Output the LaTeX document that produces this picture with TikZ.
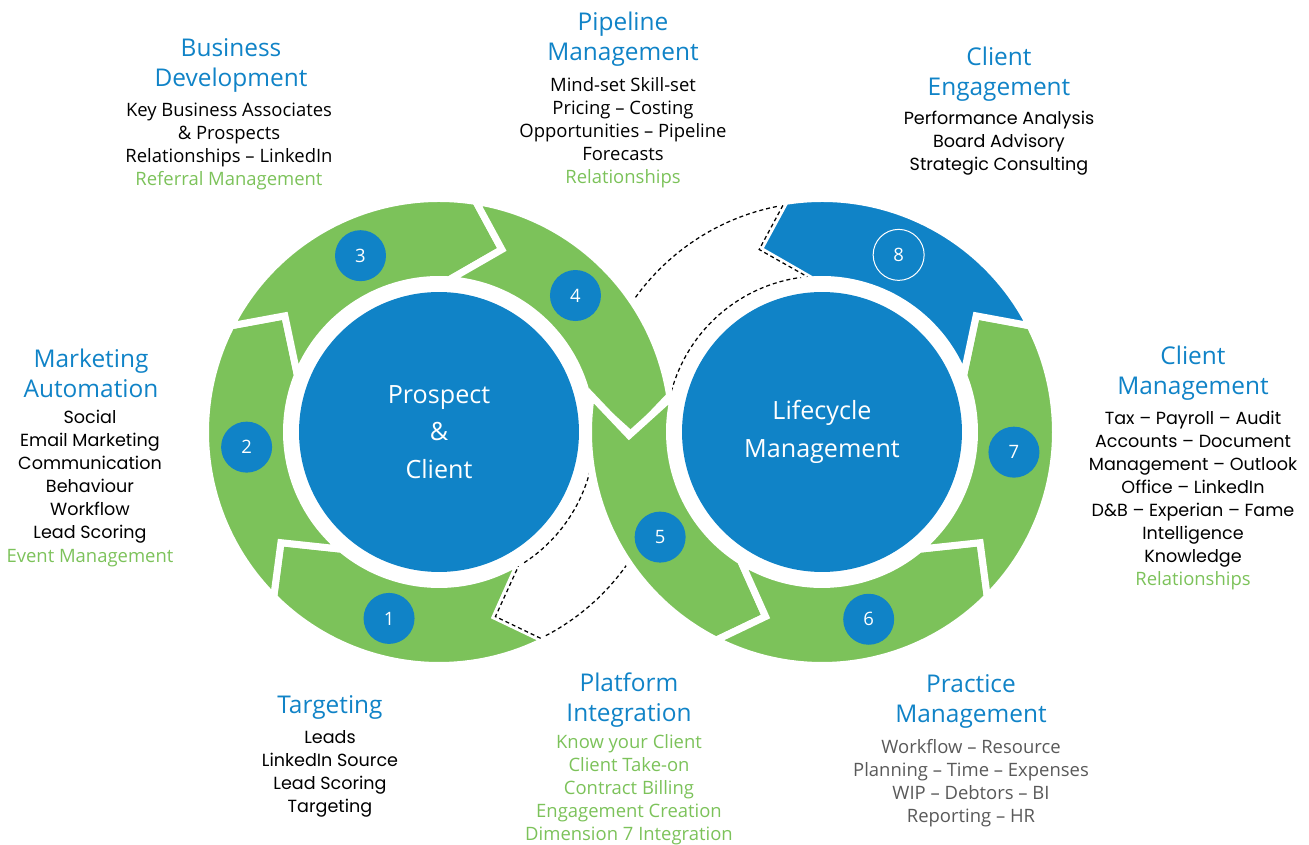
\documentclass[tikz,border=0pt]{standalone}
\usepackage{fontspec}
\setmainfont{Open Sans}
\newfontfamily\wide{Poppins}
\definecolor{mblue}{HTML}{1083C7}
\definecolor{mgreen}{HTML}{7CC25A}
\definecolor{mgray}{HTML}{595959}
\tikzset{
  seg/.style={fill=mgreen, draw=white, line width=0.14cm},
  ghost/.style={draw=black, line width=0.025cm, dash pattern=on 0.08cm off 0.06cm},
  num/.style={circle, fill=mblue, text=white, minimum size=1.02cm, inner sep=0pt, font=\fontsize{10.5}{12}\selectfont},
  numring/.style={num, fill=none, draw=white, line width=0.02cm},
  disk/.style={circle, fill=mblue, text=white, minimum size=5.6cm, inner sep=0pt, align=center, font=\fontsize{14.3}{21.3}\selectfont},
  heading/.style={text=mblue, align=center, inner sep=0pt, font=\fontsize{13.9}{17.1}\selectfont},
  items/.style={align=center, inner sep=0pt, font=\fontsize{10.5}{13.1}\selectfont},
  wideitems/.style={items, font=\wide\fontsize{10}{13.1}\selectfont},
}
\begin{document}
\begin{tikzpicture}[x=0.02cm, y=0.02cm]
\useasboundingbox (0,0) rectangle (1309,845);

\draw[ghost, shift={(439,413)}] (287:193) -- (296.22:230) arc[start angle=296.22, end angle=368.22, radius=230] -- (359:193) -- (372.59:156) arc[start angle=372.59, end angle=300.59, radius=156] -- cycle;
\draw[ghost, shift={(822,413)}] (181:193) -- (171.78:230) arc[start angle=171.78, end angle=99.78, radius=230] -- (109:193) -- (95.41:156) arc[start angle=95.41, end angle=167.41, radius=156] -- cycle;

\begin{scope}[shift={(439,413)}]
  \foreach \h in {215, 143, 71, -1} {
    \filldraw[seg] (\h:193) -- ({\h+9.94}:233.5) arc[start angle=\h+9.94, end angle=\h+81.94, radius=233.5] -- ({\h+72}:193) -- ({\h+87.2}:152.5) arc[start angle=\h+87.2, end angle=\h+15.2, radius=152.5] -- cycle;
  }
  \draw[ghost] (296.22:230) -- (287:193) -- (300.59:156);
\end{scope}

\begin{scope}[shift={(822,413)}]
  \foreach \h in {253, 325, 397} {
    \filldraw[seg] (\h:193) -- ({\h-9.94}:233.5) arc[start angle=\h-9.94, end angle=\h-81.94, radius=233.5] -- ({\h-72}:193) -- ({\h-87.2}:152.5) arc[start angle=\h-87.2, end angle=\h-15.2, radius=152.5] -- cycle;
  }
  \filldraw[seg, fill=mblue] (469:193) -- (459.06:233.5) arc[start angle=459.06, end angle=387.06, radius=233.5] -- (397:193) -- (381.8:152.5) arc[start angle=381.8, end angle=453.8, radius=152.5] -- cycle;
  \draw[ghost] (99.78:230) -- (109:193) -- (95.41:156);
\end{scope}

\node[disk] (prospect) at (439,413) {Prospect\\\&\\Client};
\node[disk] (lifecycle) at (822,413) {Lifecycle\\Management};

\begin{scope}[shift={(439,413)}]
  \foreach \a/\n in {255/1, 184.5/2, 114/3, 45/4}
    \node[num] (n\n) at (\a:193) {\n};
\end{scope}
\begin{scope}[shift={(822,413)}]
  \foreach \a/\n in {213/5, 284/6, 354/7}
    \node[num] (n\n) at (\a:193) {\n};
  \node[numring] (n8) at (66.6:193) {8};
\end{scope}

\node[heading] (bizdev) at (231,779.5) {Business\\Development};
\node[items] (bizdevlist) at (229,698.5) {Key Business Associates\\\& Prospects\\Relationships – LinkedIn\\\textcolor{mgreen}{Referral Management}};

\node[heading] (pipeline) at (623,806) {Pipeline\\Management};
\node[items] (pipelinelist) at (623,712.5) {Mind-set Skill-set\\Pricing – Costing\\Opportunities – Pipeline\\Forecasts\\\textcolor{mgreen}{Relationships}};

\node[heading] (engage) at (999,771) {Client\\Engagement};
\node[wideitems] (engagelist) at (999,701.5) {Performance Analysis\\Board Advisory\\Strategic Consulting};

\node[heading] (marketing) at (91,472) {Marketing\\Automation};
\node[wideitems] (marketinglist) at (90,356.5) {Social\\Email Marketing\\Communication\\Behaviour\\Workflow\\Lead Scoring\\\textcolor{mgreen}{\normalfont\fontsize{10.5}{13.1}\selectfont Event Management}};

\node[heading] (clientmgmt) at (1193,472) {Client\\Management};
\node[wideitems] (clientmgmtlist) at (1193,344.5) {Tax – Payroll – Audit\\Accounts – Document\\Management – Outlook\\Office – LinkedIn\\D\&B – Experian – Fame\\Intelligence\\Knowledge\\\textcolor{mgreen}{\normalfont\fontsize{10.5}{13.1}\selectfont Relationships}};

\node[heading] (targeting) at (330,138) {Targeting};
\node[wideitems] (targetinglist) at (330,71.5) {Leads\\LinkedIn Source\\Lead Scoring\\Targeting};

\node[heading] (platform) at (629,145) {Platform\\Integration};
\node[items, text=mgreen] (platformlist) at (629,55) {Know your Client\\Client Take-on\\Contract Billing\\Engagement Creation\\Dimension 7 Integration};

\node[heading] (practice) at (971,143.5) {Practice\\Management};
\node[items, text=mgray] (practicelist) at (971,62) {Workflow – Resource\\Planning – Time – Expenses\\WIP – Debtors – BI\\Reporting – HR};
\end{tikzpicture}
\end{document}
